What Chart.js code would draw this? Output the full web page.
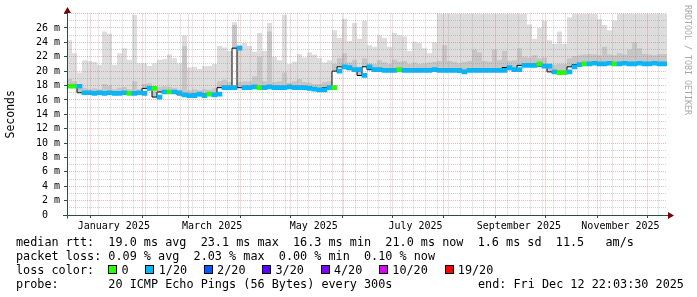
<!DOCTYPE html>
<html>
<head>
<meta charset="utf-8">
<script src="https://cdn.jsdelivr.net/npm/chart.js@4.4.1/dist/chart.umd.min.js"></script>
<style>
  html, body { margin: 0; padding: 0; background: #fff; }
  #wrap { position: relative; width: 697px; height: 297px; overflow: hidden; font-family: "DejaVu Sans Mono", monospace; }
  #smoke { position: absolute; left: 0; top: 0; }
  .row { position: absolute; left: 16px; font-size: 11.8px; line-height: 14px; white-space: pre; color: #000; }
  .box { position: absolute; top: 265px; width: 9px; height: 9px; box-sizing: border-box; border: 1px solid #000; }
  #credit { position: absolute; left: 684px; top: 5px; writing-mode: vertical-rl; font-size: 8.3px; line-height: 8px; color: #a8a8a8; white-space: pre; }
</style>
</head>
<body>
<div id="wrap">
  <canvas id="smoke" width="697" height="297"></canvas>
  <div class="row" style="top:234.6px">median rtt:  19.0 ms avg  23.1 ms max  16.3 ms min  21.0 ms now  1.6 ms sd  11.5   am/s</div>
  <div class="row" style="top:248.8px">packet loss: 0.09 % avg  2.03 % max  0.00 % min  0.10 % now</div>
  <div class="row" style="top:263px">loss color:</div>
  <div class="row" style="top:277.2px">probe:       20 ICMP Echo Pings (56 Bytes) every 300s</div>
  <div class="row" style="top:277.2px; left:478px">end: Fri Dec 12 22:03:30 2025</div>
  <div id="credit">RRDTOOL / TOBI OETIKER</div>
</div>
<script>
// one value per 3 days, starting Tue Dec 17 2024 22:03:30 (360 days)
const stepDays = 3;

// median rtt in ms
const medianRtt = [
  17.9, 17.9, 17.9, 17.0, 17.0, 16.9, 17.0, 16.9, 17.0, 16.9,
  16.9, 17.0, 16.9, 16.9, 17.0, 16.9, 17.6, 17.6, 16.4, 17.1,
  17.1, 17.1, 17.0, 16.7, 16.6, 16.6, 16.8, 16.6, 16.8, 16.7,
  16.8, 17.7, 17.7, 17.7, 23.2, 17.7, 17.7, 17.8, 17.7, 17.7,
  17.8, 17.7, 17.7, 17.7, 17.8, 17.7, 17.7, 17.7, 17.6, 17.5,
  17.4, 17.4, 17.7, 17.7, 20.0, 20.6, 20.5, 20.2, 20.2, 19.4,
  20.6, 20.2, 20.2, 20.1, 20.1, 20.1, 20.2, 20.1, 20.1, 20.1,
  20.1, 20.1, 20.1, 20.2, 20.1, 20.1, 20.1, 20.1, 20.1, 19.9,
  20.1, 20.1, 20.1, 20.1, 20.1, 20.1, 20.1, 20.1, 20.5, 20.2,
  20.2, 20.8, 20.8, 20.8, 21.0, 20.7, 20.7, 19.9, 19.8, 19.8,
  19.9, 20.6, 20.9, 21.0, 21.0, 21.1, 21.0, 21.0, 21.1, 21.0,
  21.0, 21.1, 21.0, 21.0, 21.1, 21.0, 21.0, 21.1, 21.0, 21.0
];

// darker smoke (upper quartile of the pings)
const smokeMid = [
  18.8, 18.9, 18.6, 17.6, 17.7, 17.5, 17.6, 17.5, 18.2, 18.0,
  17.5, 17.7, 17.8, 17.5, 18.6, 17.5, 18.2, 18.3, 17.2, 17.8,
  17.9, 17.8, 17.7, 17.4, 23.5, 17.3, 17.5, 17.3, 17.5, 17.4,
  17.6, 18.6, 18.8, 18.5, 26.4, 18.5, 18.6, 18.6, 19.3, 22.0,
  18.6, 25.5, 18.5, 18.6, 19.8, 18.4, 18.6, 18.9, 18.5, 18.4,
  18.2, 18.2, 18.5, 18.6, 21.0, 21.8, 22.5, 21.2, 21.6, 20.6,
  21.8, 21.1, 21.0, 21.5, 21.2, 21.0, 21.6, 21.3, 21.4, 21.0,
  21.2, 21.0, 21.1, 21.2, 21.3, 21.4, 23.6, 21.4, 21.3, 21.1,
  21.3, 21.4, 23.0, 22.6, 21.4, 21.3, 23.0, 21.5, 22.8, 21.4,
  21.5, 23.2, 22.0, 21.9, 22.2, 21.8, 21.9, 21.0, 20.9, 21.0,
  21.0, 21.8, 22.1, 22.2, 22.3, 22.4, 22.3, 22.2, 23.4, 22.3,
  22.2, 22.5, 22.3, 23.0, 24.0, 23.2, 22.4, 22.3, 22.2, 22.4
];

// light smoke (max ping), clipped at the top of the graph
const smokeTop = [
  26.0, 24.3, 22.5, 19.8, 21.5, 21.4, 21.3, 20.9, 25.5, 25.2,
  20.9, 22.5, 23.2, 21.6, 27.8, 21.1, 21.1, 20.7, 21.1, 21.6,
  21.7, 22.3, 21.8, 21.1, 25.0, 20.5, 20.6, 20.3, 20.7, 20.7,
  21.0, 23.5, 23.3, 22.8, 26.8, 23.6, 23.9, 23.5, 22.7, 25.3,
  22.8, 26.7, 22.0, 21.5, 27.8, 21.0, 21.3, 22.4, 21.9, 22.6,
  22.3, 21.8, 21.2, 21.5, 25.7, 24.6, 27.3, 24.2, 26.7, 24.5,
  27.0, 23.6, 23.4, 25.0, 24.6, 23.4, 25.3, 25.0, 24.8, 22.8,
  24.1, 23.9, 23.2, 22.5, 24.0, 28.0, 28.0, 28.0, 28.0, 28.0,
  28.0, 28.0, 28.0, 28.0, 28.0, 28.0, 28.0, 28.0, 28.0, 28.0,
  28.0, 28.0, 28.0, 26.5, 24.5, 26.0, 27.0, 24.3, 23.8, 25.5,
  23.8, 27.5, 28.0, 28.0, 28.0, 28.0, 28.0, 27.2, 26.4, 25.7,
  27.0, 28.0, 28.0, 28.0, 28.0, 28.0, 28.0, 28.0, 28.0, 28.0
];

// lost pings out of 20
const lossCount = [
  0, 0, 1, 1, 1, 1, 1, 1, 1, 1,
  1, 1, 0, 1, 1, 1, 1, 0, 1, 1,
  0, 1, 1, 1, 1, 1, 1, 1, 0, 1,
  1, 1, 1, 1, 1, 1, 1, 1, 0, 1,
  1, 1, 1, 1, 1, 1, 1, 1, 1, 1,
  1, 1, 1, 0, 1, 1, 1, 1, 1, 1,
  1, 1, 1, 1, 1, 1, 0, 1, 1, 1,
  1, 1, 1, 1, 1, 1, 1, 1, 1, 1,
  1, 1, 1, 1, 1, 1, 1, 1, 1, 1,
  1, 1, 1, 1, 0, 1, 1, 1, 0, 0,
  1, 1, 1, 0, 1, 1, 1, 1, 1, 0,
  1, 1, 1, 1, 1, 1, 1, 1, 1, 1
];

const lossLevels = ['0', '1/20', '2/20', '3/20', '4/20', '10/20', '19/20'];
const lossSteps = [0, 1, 2, 3, 4, 10, 19];
const lossColors = ['#26ff00', '#00b8ff', '#0059ff', '#5e00ff', '#7e00ff', '#dd00ff', '#ff0000'];

// x axis: days after Dec 18 2024 00:00
const dayShift = 0.081;
const firstMonday = 5;
const monthStarts = [14, 45, 73, 104, 134, 165, 195, 226, 257, 287, 318, 348];
const labelDays = [28, 87, 148, 209, 271, 332];
const labelNames = ['January 2025', 'March 2025', 'May 2025', 'July 2025', 'September 2025', 'November 2025'];
const yLabels = ['0  ', '2 m', '4 m', '6 m', '8 m', '10 m', '12 m', '14 m', '16 m', '18 m', '20 m', '22 m', '24 m', '26 m'];

function lossColor(n) {
  let c = lossColors[0];
  lossSteps.forEach((s, k) => { if (n >= s) c = lossColors[k]; });
  return c;
}

// legend boxes
const wrap = document.getElementById('wrap');
let lx = 108.3;
lossLevels.forEach((lv, k) => {
  const b = document.createElement('div');
  b.className = 'box';
  b.style.left = lx + 'px';
  b.style.background = lossColors[k];
  wrap.appendChild(b);
  const t = document.createElement('div');
  t.className = 'row';
  t.style.top = '263px';
  t.style.left = (lx + 13.3) + 'px';
  t.textContent = lv;
  wrap.appendChild(t);
  lx = lx + 13.3 + lv.length * 7.1 + 16.7;
});

// tick list for the time axis
const tickMap = {};
function addTick(d, kind, txt) {
  const key = d.toFixed(2);
  const t = tickMap[key] || { value: d + dayShift, kind: kind, txt: '' };
  if (kind === 'month') t.kind = 'month';
  if (txt) t.txt = txt;
  tickMap[key] = t;
}
for (let d = firstMonday; d < 360; d += 7) addTick(d, 'week');
monthStarts.forEach(d => addTick(d, 'month'));
labelDays.forEach((d, k) => addTick(d, 'label', labelNames[k]));
const xTicks = Object.values(tickMap).sort((a, b) => a.value - b.value);

const stepPts = vals => vals.map((v, i) => ({ x: i * stepDays, y: v }))
  .concat([{ x: vals.length * stepDays, y: vals[vals.length - 1] }]);

const gridMinor = 'rgba(140,140,140,0.4)';
const gridMajor = 'rgba(200,90,90,0.42)';
const axisColor = '#2c4d43';
const arrowColor = '#7f0000';

const axisArrows = {
  id: 'axisArrows',
  afterDraw(chart) {
    const { ctx, chartArea: a } = chart;
    const x0 = Math.round(a.left) + 0.5;
    const y0 = Math.round(a.bottom) + 0.5;
    ctx.save();
    ctx.strokeStyle = axisColor;
    ctx.lineWidth = 1;
    ctx.beginPath();
    ctx.moveTo(x0, y0 + 3);
    ctx.lineTo(x0, 12);
    ctx.moveTo(a.left - 4, y0);
    ctx.lineTo(a.right + 2, y0);
    ctx.stroke();
    ctx.fillStyle = arrowColor;
    ctx.beginPath();
    ctx.moveTo(x0 - 3.5, 13);
    ctx.lineTo(x0 + 3.5, 13);
    ctx.lineTo(x0, 7);
    ctx.closePath();
    ctx.fill();
    ctx.beginPath();
    ctx.moveTo(a.right + 1, y0 - 3.5);
    ctx.lineTo(a.right + 1, y0 + 3.5);
    ctx.lineTo(a.right + 7, y0);
    ctx.closePath();
    ctx.fill();
    ctx.restore();
  }
};

Chart.defaults.font.family = '"DejaVu Sans Mono", monospace';
Chart.defaults.color = '#000';

new Chart(document.getElementById('smoke'), {
  type: 'line',
  data: {
    datasets: [
      {
        type: 'bar',
        label: 'loss',
        data: medianRtt.map((m, i) => ({ x: i * stepDays + stepDays / 2, y: [m - 0.28, m + 0.28] })),
        backgroundColor: lossCount.map(lossColor),
        borderWidth: 0,
        barThickness: 5,
        order: 0
      },
      {
        label: 'median rtt',
        data: stepPts(medianRtt),
        stepped: 'after',
        borderColor: '#000',
        borderWidth: 1,
        pointRadius: 0,
        fill: false,
        order: 1
      },
      {
        label: 'smoke mid',
        data: stepPts(smokeMid),
        stepped: 'after',
        borderColor: 'rgba(0,0,0,0)',
        borderWidth: 0,
        pointRadius: 0,
        backgroundColor: 'rgb(198,198,198)',
        fill: 1,
        order: 2
      },
      {
        label: 'smoke max',
        data: stepPts(smokeTop),
        stepped: 'after',
        borderColor: 'rgba(0,0,0,0)',
        borderWidth: 0,
        pointRadius: 0,
        backgroundColor: 'rgb(221,221,221)',
        fill: 1,
        order: 3
      }
    ]
  },
  options: {
    responsive: false,
    animation: false,
    devicePixelRatio: 1,
    layout: { padding: { left: 0, right: 30, top: 13.6, bottom: 62 } },
    plugins: {
      legend: { display: false },
      tooltip: { enabled: false }
    },
    scales: {
      x: {
        type: 'linear',
        min: 0,
        max: 360,
        offset: false,
        afterBuildTicks: scale => { scale.ticks = xTicks.map(t => Object.assign({}, t)); },
        afterFit: scale => { scale.height = 20; },
        border: { display: false, dash: [1, 1] },
        grid: {
          z: 1,
          offset: false,
          drawTicks: true,
          tickLength: 3,
          tickBorderDash: [],
          color: c => c.tick ? (c.tick.kind === 'month' ? gridMajor : c.tick.kind === 'week' ? gridMinor : 'rgba(0,0,0,0)') : 'rgba(0,0,0,0)',
          tickColor: c => c.tick && c.tick.kind === 'month' ? axisColor : 'rgba(0,0,0,0)'
        },
        ticks: {
          autoSkip: false,
          maxRotation: 0,
          padding: 2,
          font: { size: 10 },
          color: '#000',
          callback: (v, i, ticks) => ticks[i].txt || ''
        }
      },
      y: {
        min: 0,
        max: 28,
        afterFit: scale => { scale.width = 67; },
        border: { display: false, dash: [1, 1] },
        grid: {
          z: 1,
          drawTicks: true,
          tickLength: 3,
          tickBorderDash: [],
          color: c => c.tick && c.tick.value % 2 === 0 ? gridMajor : gridMinor,
          tickColor: c => c.tick && c.tick.value % 2 === 0 ? axisColor : 'rgba(0,0,0,0)'
        },
        ticks: {
          stepSize: 1,
          autoSkip: false,
          padding: 4,
          font: { size: 10 },
          color: '#000',
          callback: v => (v % 2 === 0 && v < 28) ? yLabels[v / 2] : ''
        },
        title: {
          display: true,
          text: 'Seconds',
          color: '#000',
          font: { size: 11.5 },
          padding: { top: 4, bottom: 0 }
        }
      }
    }
  },
  plugins: [axisArrows]
});
</script>
</body>
</html>
